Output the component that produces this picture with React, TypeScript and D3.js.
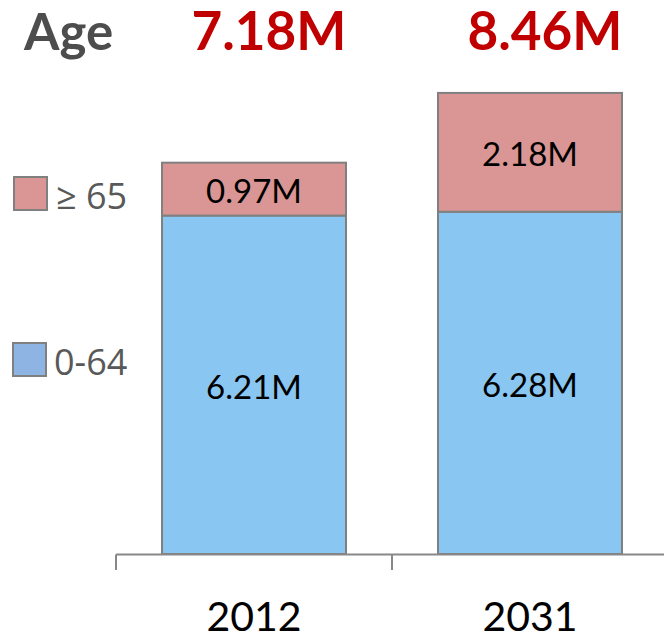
import React from "react";
import * as d3 from "d3";

const years = ["2012", "2031"];
const under65 = [6.21, 6.28];
const over65 = [0.97, 2.18];
const totals = ["7.18M", "8.46M"];
const under65Labels = ["6.21M", "6.28M"];
const over65Labels = ["0.97M", "2.18M"];
const legendItems = ["≥ 65", "0-64"];

const W = 664;
const H = 634;

export default function App() {
  const x = d3
    .scaleBand<string>()
    .domain(years)
    .range([116, 668])
    .paddingInner(1 / 3)
    .paddingOuter(1 / 6);
  const y = d3.scaleLinear().domain([0, 10]).range([554, 9]);
  const step = x.step();
  const startX = 116;

  const blue = "#89C7F2";
  const pink = "#DA9694";
  const border = "#808080";

  return (
    <svg
      width={W}
      height={H}
      style={{ position: "absolute", left: 0, top: 0, display: "block", background: "#fff" }}
    >
      {/* title */}
      <text x={24} y={49.5} fontFamily="Lato" fontWeight={700} fontSize={51} fill="#4D4D4D">
        Age
      </text>
      {years.map((yr, i) => (
        <text
          key={"t" + yr}
          x={(x(yr) as number) + x.bandwidth() / 2 + 15}
          y={49.5}
          textAnchor="middle"
          fontFamily="Lato"
          fontWeight={700}
          fontSize={53}
          fill="#C00000"
        >
          {totals[i]}
        </text>
      ))}

      {/* bars */}
      {years.map((yr, i) => {
        const bx = x(yr) as number;
        const bw = x.bandwidth();
        const y0 = y(0);
        const y1 = y(under65[i]);
        const y2 = y(under65[i] + over65[i]);
        return (
          <g key={"b" + yr}>
            <rect x={bx} y={y1} width={bw} height={y0 - y1} fill={blue} stroke={border} strokeWidth={2} />
            <rect x={bx} y={y2} width={bw} height={y1 - y2} fill={pink} stroke={border} strokeWidth={2} />
            <text
              x={bx + bw / 2}
              y={(y0 + y1) / 2 + 14}
              textAnchor="middle"
              fontFamily="Lato"
              fontSize={33}
              fill="#000"
            >
              {under65Labels[i]}
            </text>
            <text
              x={bx + bw / 2}
              y={(y1 + y2) / 2 + 14}
              textAnchor="middle"
              fontFamily="Lato"
              fontSize={33}
              fill="#000"
            >
              {over65Labels[i]}
            </text>
          </g>
        );
      })}

      {/* axis */}
      <line x1={startX} x2={W} y1={554.5} y2={554.5} stroke="#888" strokeWidth={2} />
      {d3.range(years.length + 1).map((k) => (
        <line
          key={"tk" + k}
          x1={startX + k * step}
          x2={startX + k * step}
          y1={554.5}
          y2={570}
          stroke="#888"
          strokeWidth={2}
        />
      ))}
      {years.map((yr) => (
        <text
          key={"yl" + yr}
          x={(x(yr) as number) + x.bandwidth() / 2}
          y={631}
          textAnchor="middle"
          fontFamily="Lato"
          fontSize={41}
          fill="#000"
        >
          {yr}
        </text>
      ))}

      {/* legend */}
      <rect x={14} y={177} width={33} height={33} fill={pink} stroke={border} strokeWidth={2} />
      <text x={56} y={209} fontFamily="Open Sans, DejaVu Sans" fontSize={36} fill="#595959">
        {legendItems[0]}
      </text>
      <rect x={13} y={343} width={33} height={33} fill="#8EB4E3" stroke={border} strokeWidth={2} />
      <text x={54} y={375} fontFamily="Open Sans, DejaVu Sans" fontSize={36} fill="#595959">
        {legendItems[1]}
      </text>
    </svg>
  );
}
